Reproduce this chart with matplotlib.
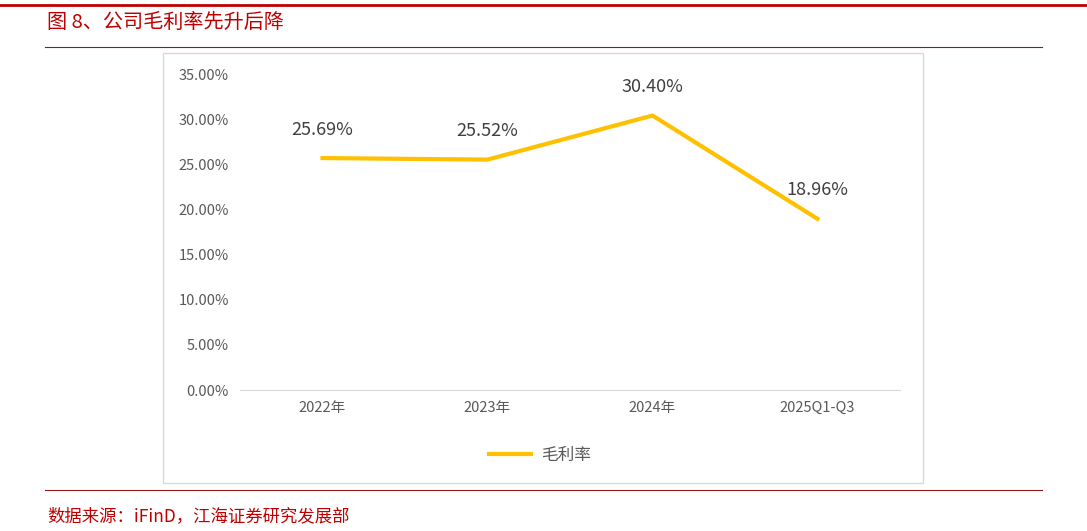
import matplotlib.pyplot as plt
from matplotlib.patches import Rectangle
from matplotlib.lines import Line2D

plt.rcParams['font.family'] = ['Noto Sans CJK SC', 'DejaVu Sans']

categories = ['2022年', '2023年', '2024年', '2025Q1-Q3']
gross_margin = [25.69, 25.52, 30.40, 18.96]
yticks = [0, 5, 10, 15, 20, 25, 30, 35]

W, H = 1087, 531
fig = plt.figure(figsize=(W / 100, H / 100), dpi=100)

red = '#C00000'
# top and separator lines
fig.add_artist(Line2D([0, 1], [1 - 5 / H, 1 - 5 / H], color=red, lw=2))
fig.add_artist(Line2D([45 / W, 1042 / W], [1 - 47 / H, 1 - 47 / H], color='#8B1A1A', lw=0.8))
fig.add_artist(Line2D([45 / W, 1042 / W], [1 - 490 / H, 1 - 490 / H], color='#8B1A1A', lw=0.8))
fig.text(47 / W, 1 - 22 / H, '图 8、公司毛利率先升后降', color=red, fontsize=14.5, va='center')
fig.text(47 / W, 1 - 516 / H, '数据来源：iFinD，江海证券研究发展部', color=red, fontsize=12.5, va='center')

# chart frame
fig.add_artist(Rectangle((163 / W, 1 - 483 / H), 760 / W, 430 / H, fill=False,
                         edgecolor='#D9D9D9', lw=1, transform=fig.transFigure))

ax = fig.add_axes([240 / W, 1 - 390 / H, 660 / W, 316 / H])
x = list(range(len(categories)))
line, = ax.plot(x, gross_margin, color='#FFC000', lw=3, label='毛利率')
for xi, v in zip(x, gross_margin):
    ax.annotate(f'{v:.2f}%', (xi, v), xytext=(0, 14), textcoords='offset points',
                ha='center', va='bottom', fontsize=13, color='#404040')
ax.set_xlim(-0.5, len(categories) - 0.5)
ax.set_ylim(0, 35)
ax.set_yticks(yticks)
ax.set_yticklabels([f'{t:.2f}%' for t in yticks], fontsize=10.5, color='#595959')
ax.set_xticks(x)
ax.set_xticklabels(categories, fontsize=10.5, color='#595959')
for s in ['top', 'right', 'left']:
    ax.spines[s].set_visible(False)
ax.spines['bottom'].set_color('#D9D9D9')
ax.tick_params(length=0, pad=8)

fig.legend(handles=[line], loc='center', bbox_to_anchor=(540 / W, 1 - 455 / H),
           frameon=False, fontsize=12, handlelength=2.5, handletextpad=0.6,
           labelcolor='#595959')

fig.savefig('out.png', dpi=100)
